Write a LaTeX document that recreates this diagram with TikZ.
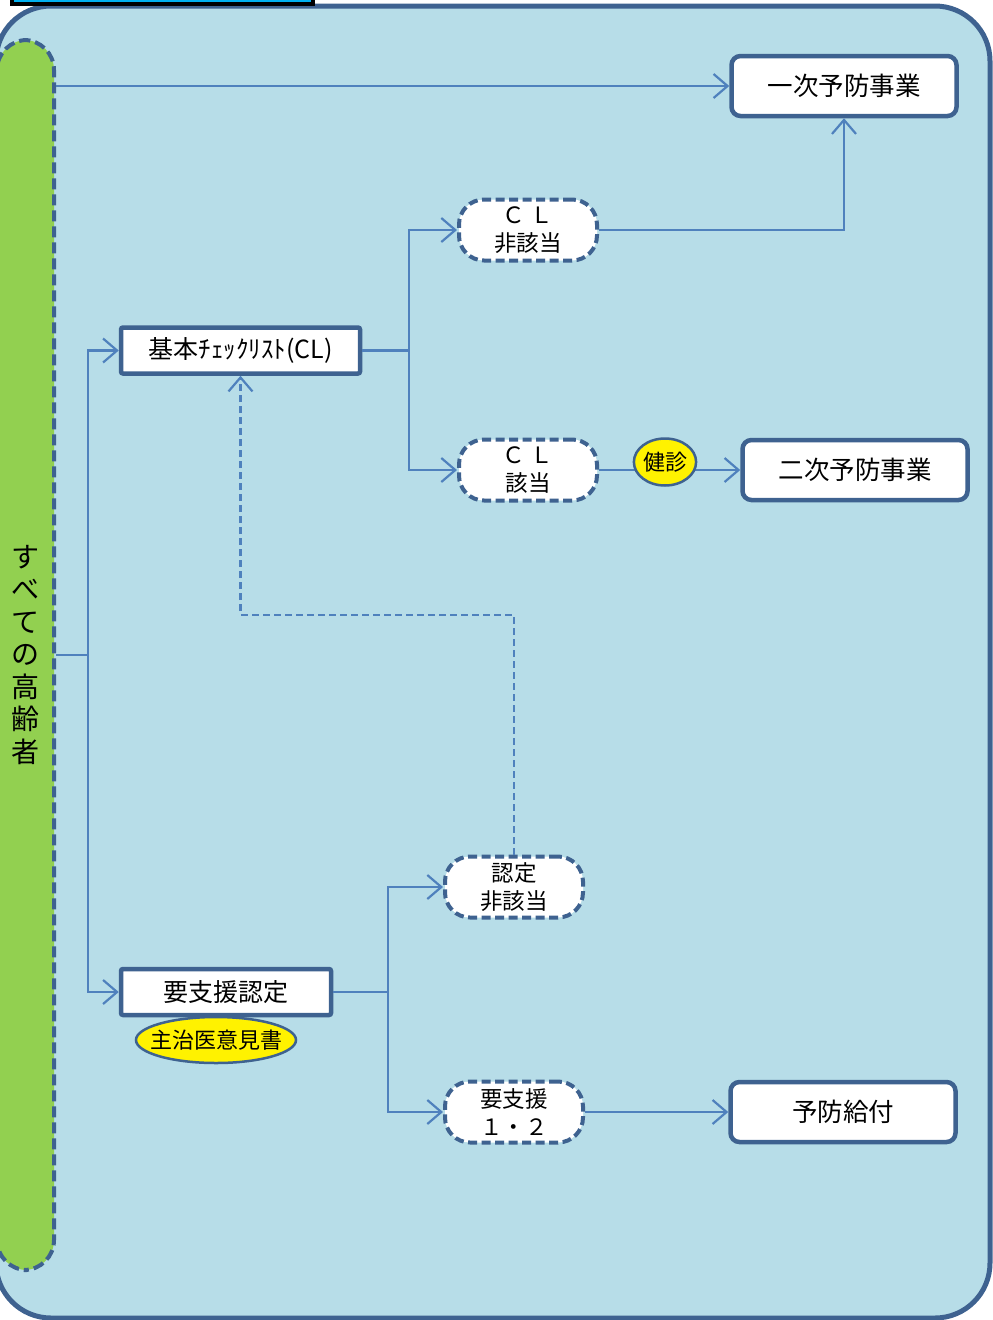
\documentclass[tikz,border=0pt]{standalone}
\usepackage{fontspec}
\setmainfont{Noto Sans CJK JP}
\usetikzlibrary{arrows.meta,shapes.geometric}
\definecolor{panel}{HTML}{B7DDE8}
\definecolor{frame}{HTML}{3E6290}
\definecolor{link}{HTML}{4F81BD}
\definecolor{allgreen}{HTML}{92D050}
\definecolor{topcyan}{HTML}{00B0F0}
\tikzset{
  flow/.style={draw=link,line width=2.2pt,-{Straight Barb[length=14pt,width=24pt,line width=2.2pt]}},
  wire/.style={draw=link,line width=2.2pt},
  endbox/.style={rectangle,rounded corners=9pt,draw=frame,line width=4.5pt,fill=white,
    minimum width=225pt,minimum height=60pt,font=\fontsize{25.5}{30}\selectfont},
  stepbox/.style={rectangle,rounded corners=2pt,draw=frame,line width=4.5pt,fill=white,
    minimum height=46pt,font=\fontsize{25}{30}\selectfont},
  pill/.style={rectangle,rounded corners=25pt,draw=frame,line width=4pt,dash pattern=on 9pt off 4.5pt,
    fill=white,minimum width=138pt,minimum height=61pt,align=center,inner sep=0pt,
    font=\fontsize{22.5}{28}\selectfont},
  tag/.style={ellipse,draw=frame,line width=2.5pt,fill=yellow,inner sep=0pt,
    font=\fontsize{22}{24}\selectfont}
}
\begin{document}
\begin{tikzpicture}[x=1pt,y=-1pt]
  \useasboundingbox (0,0) rectangle (993,1320);
  %% panel
  \draw[frame,line width=5pt,fill=panel,rounded corners=55pt] (-4,6) rectangle (990,1318);
  \draw[black,line width=3.5pt,fill=topcyan] (12,-20) rectangle (313,4);
  %% all elderly
  \node[rectangle,rounded corners=30pt,draw=frame,line width=4pt,dash pattern=on 11pt off 5pt,
    fill=allgreen,minimum width=57pt,minimum height=1230pt,align=center,inner sep=0pt,
    font=\fontsize{28}{32.5}\selectfont] (all) at (25.5,655)
    {す\\べ\\て\\の\\高\\齢\\者};
  %% boxes
  \node[endbox] (ichiji) at (844,86) {一次予防事業};
  \node[endbox] (niji) at (855,470) {二次予防事業};
  \node[endbox] (kyufu) at (843,1112) {予防給付};
  \node[stepbox,minimum width=239pt] (kihon) at (240.5,350.5) {基本ﾁｪｯｸﾘｽﾄ(CL)};
  \node[stepbox,minimum width=210pt] (nintei) at (226,992) {要支援認定};
  \node[pill] (hi) at (528,230) {Ｃ Ｌ\\非該当};
  \node[pill] (gai) at (528,470) {Ｃ Ｌ\\該当};
  \node[pill] (hig) at (514,887) {認定\\非該当};
  \node[pill] (shien) at (514,1112) {要支援\\１・２};
  \node[tag,inner xsep=-9.5pt,minimum width=160pt,minimum height=46pt] (ikensho) at (216,1040) {主治医意見書};
  %% connectors
  \coordinate (aj) at (88,655);
  \coordinate (kj) at (409,350.5);
  \coordinate (nj) at (388,992);
  \coordinate (dj) at (240.5,615);
  \draw[flow] (all.east |- ichiji.west) -- (ichiji.west);
  \draw[flow] (hi.east) -| (ichiji.south);
  \draw[wire] (kihon.east) -- (kj);
  \foreach \t in {hi,gai} \draw[flow] (kj) |- (\t.west);
  \draw[flow] (gai.east) -- (niji.west);
  \draw[wire] (all.east |- aj) -- (aj);
  \foreach \t in {kihon,nintei} \draw[flow] (aj) |- (\t.west);
  \draw[wire] (nintei.east) -- (nj);
  \foreach \t in {hig,shien} \draw[flow] (nj) |- (\t.west);
  \draw[flow] (shien.east) -- (kyufu.west);
  \draw[flow,dash pattern=on 7pt off 4pt] (hig.north) |- (dj) -- (kihon.south);
  %% check-up on the line
  \node[tag,minimum width=62pt,minimum height=47pt] (kenshin) at (665,462) {健診};
\end{tikzpicture}
\end{document}
